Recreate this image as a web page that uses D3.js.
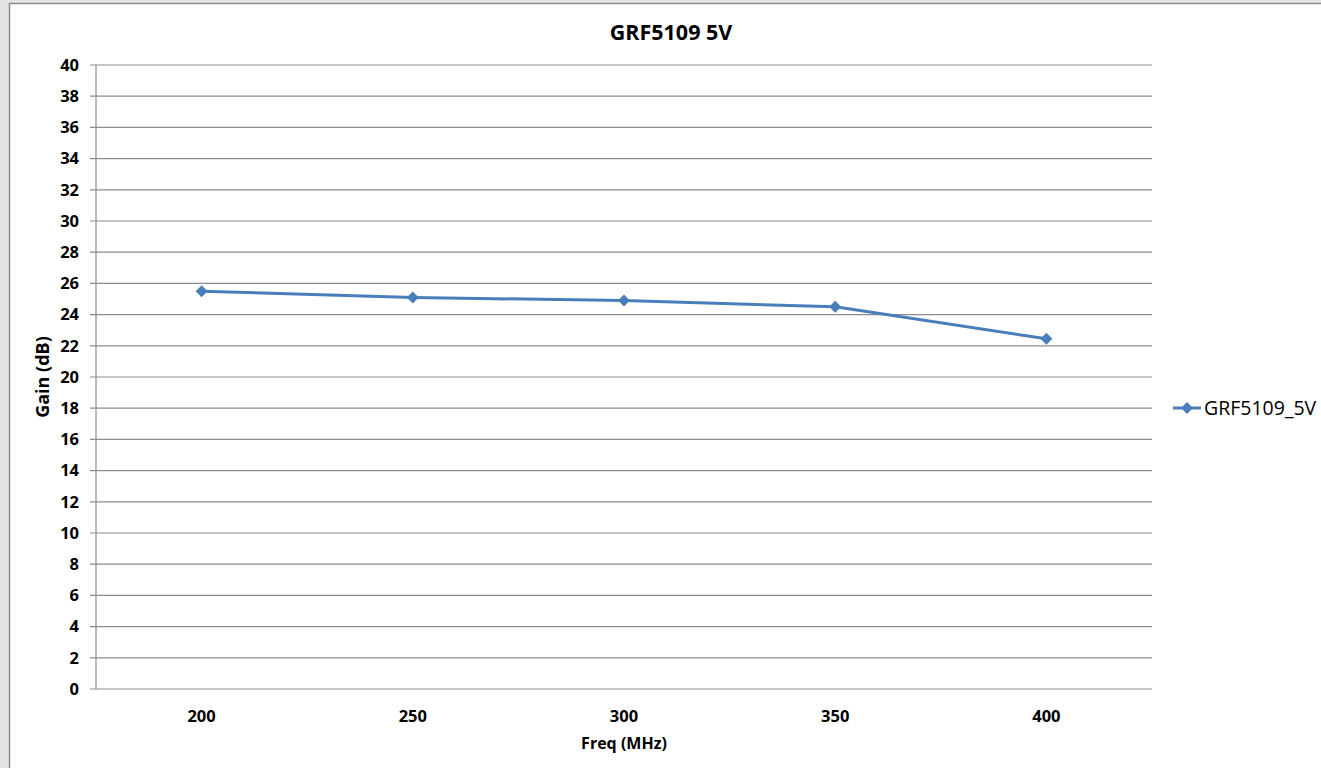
<!DOCTYPE html>
<html>
<head>
<meta charset="utf-8">
<script src="https://cdn.jsdelivr.net/npm/d3@7"></script>
<style>
  body { margin: 0; background: #fff; }
  svg text { font-family: "Open Sans", "Lato", sans-serif; fill: #000; }
</style>
</head>
<body>
<div id="chart"></div>
<script>
const freqs = ["200", "250", "300", "350", "400"];
const gain = [25.5, 25.1, 24.9, 24.5, 22.45];
const yTicks = d3.range(0, 41, 2);
const seriesName = "GRF5109_5V";

const width = 1321, height = 768;
const margin = { top: 65, right: 169, bottom: 79, left: 96 };
const lineColor = "#4a7ebb";

const svg = d3.select("#chart").append("svg")
  .attr("width", width)
  .attr("height", height);

// frame around the chart area
svg.append("rect").attr("x", 0).attr("y", 0).attr("width", width).attr("height", height).attr("fill", "#e3e3e3");
svg.append("rect").attr("x", 9.5).attr("y", 3.5).attr("width", width).attr("height", height)
  .attr("fill", "#fff").attr("stroke", "#8c8c8c").attr("stroke-width", 1.5);

const x = d3.scalePoint()
  .domain(freqs)
  .range([margin.left, width - margin.right])
  .padding(0.5);

const y = d3.scaleLinear()
  .domain([0, 40])
  .range([height - margin.bottom, margin.top]);

// gridlines
svg.append("g")
  .selectAll("line")
  .data(yTicks)
  .enter()
  .append("line")
  .attr("x1", margin.left - 6)
  .attr("x2", width - margin.right)
  .attr("y1", d => y(d))
  .attr("y2", d => y(d))
  .attr("stroke", "#8c8c8c")
  .attr("stroke-width", 1.2);

// y axis line
svg.append("line")
  .attr("x1", margin.left).attr("x2", margin.left)
  .attr("y1", y(40)).attr("y2", y(0))
  .attr("stroke", "#8c8c8c").attr("stroke-width", 1.2);

// y tick labels
svg.append("g")
  .selectAll("text")
  .data(yTicks)
  .enter()
  .append("text")
  .attr("x", margin.left - 17)
  .attr("y", d => y(d))
  .attr("dy", "0.35em")
  .attr("text-anchor", "end")
  .attr("font-size", 16.5)
  .attr("font-weight", "bold")
  .text(d => d);

// x tick labels
svg.append("g")
  .selectAll("text")
  .data(freqs)
  .enter()
  .append("text")
  .attr("x", d => x(d))
  .attr("y", y(0) + 27)
  .attr("dy", "0.35em")
  .attr("text-anchor", "middle")
  .attr("font-size", 16.5)
  .attr("font-weight", "bold")
  .text(d => d);

// titles
svg.append("text")
  .attr("x", 671).attr("y", 32)
  .attr("dy", "0.35em")
  .attr("text-anchor", "middle")
  .attr("font-size", 21.5)
  .attr("font-weight", "bold")
  .text("GRF5109 5V");

svg.append("text")
  .attr("x", 624).attr("y", 743)
  .attr("dy", "0.35em")
  .attr("text-anchor", "middle")
  .attr("font-size", 16)
  .attr("font-weight", "bold")
  .text("Freq (MHz)");

svg.append("text")
  .attr("transform", `translate(43,${(y(0) + y(40)) / 2}) rotate(-90)`)
  .attr("dy", "0.35em")
  .attr("text-anchor", "middle")
  .attr("font-size", 18)
  .attr("font-weight", "bold")
  .text("Gain (dB)");

// series
const pts = freqs.map((f, i) => ({ f, v: gain[i] }));
const line = d3.line().x(d => x(d.f)).y(d => y(d.v));

svg.append("path")
  .datum(pts)
  .attr("d", line)
  .attr("fill", "none")
  .attr("stroke", lineColor)
  .attr("stroke-width", 3)
  .attr("stroke-linejoin", "round");

const diamond = d3.symbol().type(d3.symbolDiamond2).size(90);

svg.append("g")
  .selectAll("path")
  .data(pts)
  .enter()
  .append("path")
  .attr("transform", d => `translate(${x(d.f)},${y(d.v)})`)
  .attr("d", diamond)
  .attr("fill", lineColor);

// legend
const lg = svg.append("g").attr("transform", "translate(1173,408)");
lg.append("line").attr("x1", 0).attr("x2", 28).attr("y1", 0).attr("y2", 0)
  .attr("stroke", lineColor).attr("stroke-width", 3);
lg.append("path").attr("transform", "translate(14,0)").attr("d", diamond).attr("fill", lineColor);
lg.append("text").attr("x", 31).attr("y", 0).attr("dy", "0.35em")
  .attr("font-size", 19.5).text(seriesName);
</script>
</body>
</html>
